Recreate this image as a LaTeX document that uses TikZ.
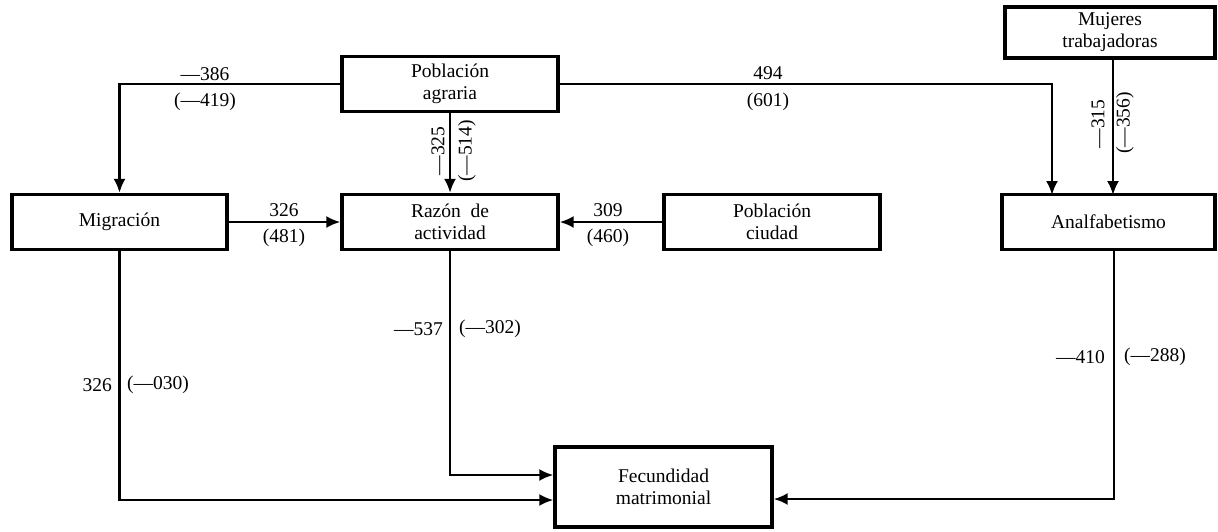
\documentclass[tikz,border=0pt]{standalone}
\usepackage{fontspec}
\setmainfont{Liberation Serif}
\usetikzlibrary{arrows.meta}
\begin{document}
\begin{tikzpicture}[x=1pt,y=-1pt,
  box/.style={draw,line width=3.4pt,minimum height=55pt,align=center,inner sep=0pt,
    font=\fontsize{19.5}{22}\selectfont},
  arr/.style={line width=2.3pt,-{Latex[length=14pt,width=12pt]}},
  lbl/.style={font=\fontsize{19.5}{22}\selectfont,inner sep=0pt}]
\useasboundingbox (0,0) rectangle (1218,531);

% variables
\node[box,minimum width=216pt] (pa) at (450,84) {Población\\agraria};
\node[box,minimum width=216pt] (ra) at (450,222) {Razón\ \ de\\actividad};
\node[box,minimum width=215pt] (mig) at (119.5,222) {Migración};
\node[box,minimum width=216pt] (pc) at (772,222) {Población\\ciudad};
\node[box,minimum width=213pt] (an) at (1108.5,222) {Analfabetismo};
\node[box,minimum width=210pt,minimum height=51pt] (mt) at (1110,32.5) {Mujeres\\trabajadoras};
\node[box,minimum width=217pt,minimum height=80pt] (fm) at (663.5,487) {Fecundidad\\matrimonial};

\coordinate (anin) at (1052,195);
\coordinate (mtout) at (1113,58);
\coordinate (mtin) at (1113,195);
\coordinate (anout) at (1114,250);

% paths
\draw[arr] (pa.west) -| (mig.north);
\draw[arr] (pa.east) -| (anin);
\draw[arr] (pa.south) -- (ra.north);
\draw[arr] (mtout) -- (mtin);
\draw[arr] (mig.east) -- (ra.west);
\draw[arr] (pc.west) -- (ra.east);
\draw[arr] (mig.south) |- ([yshift=-13pt]fm.west);
\draw[arr] (ra.south) |- ([yshift=12pt]fm.west);
\draw[arr] (anout) |- ([yshift=-12pt]fm.east);

% coefficients
\node[lbl] (l1) at (205,74) {—386};
\node[lbl] (l2) at (205,102) {(—419)};
\node[lbl] (l3) at (768,73) {494};
\node[lbl] (l4) at (768,102) {(601)};
\node[lbl,rotate=90] (l5) at (438,151) {—325};
\node[lbl,rotate=90] (l6) at (467,151) {(—514)};
\node[lbl,rotate=90] (l7) at (1098,124) {—315};
\node[lbl,rotate=90] (l8) at (1125,123) {(—356)};
\node[lbl] (l9) at (284,210) {326};
\node[lbl] (l10) at (284,238) {(481)};
\node[lbl] (l11) at (608,210) {309};
\node[lbl] (l12) at (608,238) {(460)};
\node[lbl,anchor=east] (l13) at (443,329) {—537};
\node[lbl,anchor=west] (l14) at (459,329) {(—302)};
\node[lbl,anchor=east] (l15) at (112,385) {326};
\node[lbl,anchor=west] (l16) at (127,385) {(—030)};
\node[lbl,anchor=east] (l17) at (1105,357) {—410};
\node[lbl,anchor=west] (l18) at (1124,357) {(—288)};
\end{tikzpicture}
\end{document}
